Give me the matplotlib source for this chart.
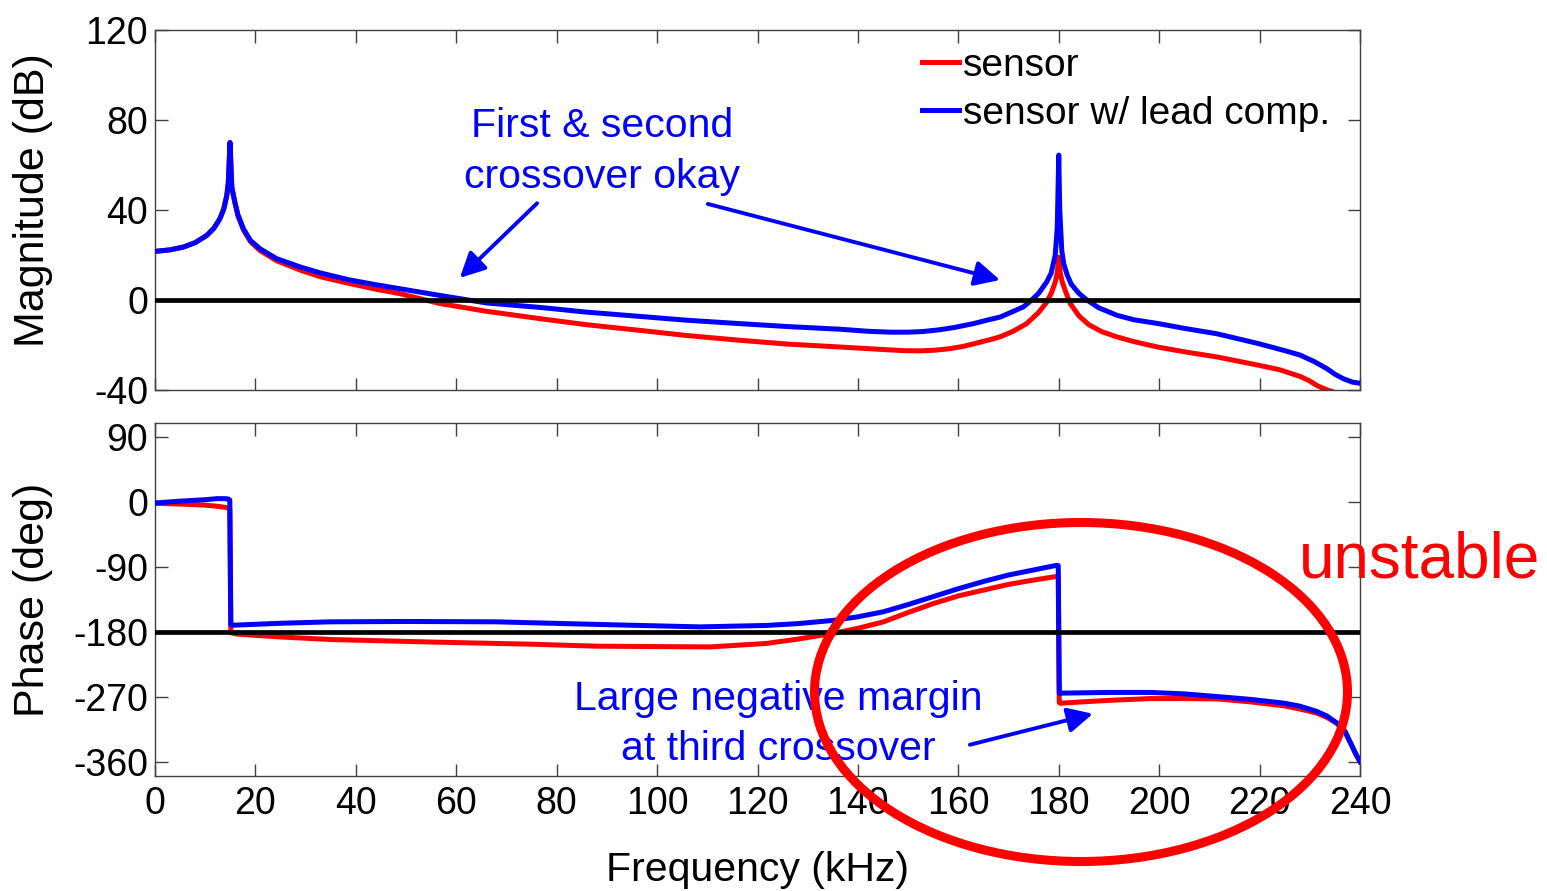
import matplotlib
matplotlib.use("Agg")
import matplotlib.pyplot as plt
from matplotlib.patches import Ellipse

plt.rcParams['font.family'] = ['Liberation Sans', 'DejaVu Sans']
plt.rcParams['axes.unicode_minus'] = False

# ---------------- data ----------------
mag_blue_f = [0, 3, 5.6, 8, 10.3, 11.7, 12.9, 13.7, 14.3, 14.6, 14.94, 15.3, 15.9, 16.5,
              17.6, 19, 20.9, 24.2, 28.9, 33, 38.8, 44, 48.8, 56.8, 66, 76.7, 86,
              96.6, 106, 116.5, 126, 136.5, 142, 146.4, 150, 153, 156, 159, 163,
              166, 168.3, 171, 173, 174.6, 176, 177.6, 178.5, 179.3, 179.7, 180.0,
              180.2, 180.6, 181.0, 181.7, 182.5, 184, 185.6, 188, 191.6, 195, 199.9,
              205, 211.5, 219.8, 225, 228.1, 231, 233.4, 235, 236.7, 238.5, 240]
mag_blue = [21.6, 22.3, 23.5, 25.5, 28.7, 31.8, 36, 40.5, 46.5, 52, 70, 50, 43.5, 38,
            31.7, 26.5, 22.8, 18.4, 14.7, 12, 8.9, 6.8, 5, 2, -1.3, -3.3, -5.4,
            -7.3, -9, -10.5, -11.8, -13, -13.9, -14.3, -14.3, -14, -13.3, -12.3, -10.5,
            -8.8, -7.6, -5, -3, 0, 3, 8, 12, 20, 32, 64.4,
            40, 22, 16, 11, 7, 3, 0, -3.5, -6.8, -8.8, -10.5,
            -12.6, -15, -19.4, -22.5, -24.5, -27.5, -30.5, -33, -35, -36.5, -37]

mag_red_f = [0, 3, 5.6, 8, 10.3, 11.7, 12.9, 13.7, 14.3, 14.6, 14.94, 15.3, 15.9, 16.5,
             17.6, 19, 20.9, 24.2, 28.9, 33, 38.8, 44, 48.8, 56.8, 66, 76.7, 86,
             96.6, 106, 116.5, 126, 136.5, 145, 149, 152.4, 155.5, 158.4, 161, 163,
             166, 168.3, 171, 173.6, 176, 177.6, 178.6, 179.3, 179.7, 180.0, 180.3,
             180.7, 181.4, 182.3, 184, 186, 188.5, 191.6, 195, 199.9, 205, 211.5,
             219.8, 224, 228.1, 230, 231.4, 233.5, 235.5, 240]
mag_red = [21.6, 22.3, 23.5, 25.5, 28.7, 31.8, 36, 40.5, 46.5, 52, 70, 50, 43.5, 37.5,
           31.2, 26, 22, 17.5, 13.3, 10.3, 7.3, 4.8, 2.8, -1.6, -5, -8.3, -11,
           -13.5, -15.8, -17.9, -19.6, -20.9, -22, -22.5, -22.6, -22.3, -21.6, -20.6, -19.5,
           -17.8, -16.4, -13.8, -10.5, -5.5, -1, 3.5, 8, 12, 19, 12,
           8, 3.5, -1.6, -7, -11, -14, -16.4, -18.5, -21, -23, -25.3,
           -29, -31, -34, -36, -38, -40, -41.5, -47]

ph_blue_f = [0, 5, 10, 12.3, 13.9, 14.6, 14.9, 15.1, 15.6, 25, 34.9, 50, 68, 81.3,
             94.6, 108.6, 121.8, 128, 135.1, 140, 145.1, 150, 155, 160, 165, 170,
             175, 179.6, 179.9, 180.1, 180.3, 190, 198.2, 205, 211.5, 218, 224.8,
             228, 231.4, 233.5, 235.4, 237, 238.1, 239.2, 240]
ph_blue = [-1, 1.5, 3.5, 5, 5, 4.5, 3, -170, -170.7, -168, -166, -165.5, -166, -168.4,
           -170.7, -173, -171, -168.5, -164, -159, -152, -142, -131, -120, -110, -101,
           -94, -87.5, -88, -265, -265, -264, -264, -266, -269.7, -273.5, -278.8,
           -283, -290.4, -297, -306.5, -318, -334, -350, -360]

ph_red_f = [0, 5, 10, 12.3, 13.9, 14.6, 14.9, 15.1, 16.3, 25, 34.9, 54.8, 74.7, 88,
            110.6, 121.8, 128, 135.1, 140, 145.1, 150, 155, 160, 165, 170, 175,
            179.6, 179.9, 180.1, 180.3, 185, 190, 198.2, 205, 211.5, 218, 224.8,
            228, 231.4, 233.5, 235.4, 237, 238.1, 239.2, 240]
ph_red = [-1.5, -2.5, -4, -5.5, -7, -8, -9, -181, -183, -187, -190.5, -194, -197, -199.8,
          -200.8, -196, -190, -182, -175, -166, -153, -140.7, -130, -122, -114, -108,
          -103, -103, -278, -279, -277, -275, -272.5, -272.5, -273, -277, -282.5,
          -287, -292.6, -299, -307, -318, -334, -350, -360]

freq_ticks = [0, 20, 40, 60, 80, 100, 120, 140, 160, 180, 200, 220, 240]
mag_ticks = [-40, 0, 40, 80, 120]
ph_ticks = [-360, -270, -180, -90, 0, 90]
mag_ref = 0
ph_ref = -180

# ---------------- figure ----------------
W, H = 1547, 891
fig = plt.figure(figsize=(W / 100, H / 100), dpi=100)

def fx(px):
    return px / W

def fy(py):
    return 1 - py / H

ax1 = fig.add_axes([fx(155), fy(390), (1360 - 155) / W, (390 - 30) / H])
ax2 = fig.add_axes([fx(155), fy(776), (1360 - 155) / W, (776 - 423) / H])

lw = 3.6
l_red, = ax1.plot(mag_red_f, mag_red, color='#ff0000', lw=lw, label='sensor', zorder=2)
l_blue, = ax1.plot(mag_blue_f, mag_blue, color='#0000ff', lw=lw,
                   label='sensor w/ lead comp.', zorder=3)
ax1.axhline(mag_ref, color='black', lw=3.4, zorder=4)

ax2.plot(ph_red_f, ph_red, color='#ff0000', lw=lw, zorder=2)
ax2.plot(ph_blue_f, ph_blue, color='#0000ff', lw=lw, zorder=3)
ax2.axhline(ph_ref, color='black', lw=3.4, zorder=4)

ax1.set_xlim(0, 240)
ax1.set_ylim(-40, 120)
ax2.set_xlim(0, 240)
ax2.set_ylim(-380, 110)

for ax in (ax1, ax2):
    ax.set_xticks(freq_ticks)
    ax.tick_params(direction='in', length=9, width=1, color='#404040',
                   top=True, right=True, labelsize=27, pad=5)
    for s in ax.spines.values():
        s.set_color('#404040')
        s.set_linewidth(1)
ax1.set_yticks(mag_ticks)
ax1.tick_params(axis='x', labelbottom=False)
ax2.set_yticks(ph_ticks)
ax2.tick_params(axis='x', pad=7)

fig.text(fx(33), fy(200), 'Magnitude (dB)', rotation=90, ha='center', va='center', fontsize=31)
fig.text(fx(33), fy(600), 'Phase (deg)', rotation=90, ha='center', va='center', fontsize=31)
fig.text(fx(757), fy(870), 'Frequency (kHz)', ha='center', va='center', fontsize=29.5)

ax1.legend(handles=[l_red, l_blue], loc='upper left',
           bbox_to_anchor=(fx(922), fy(48)), bbox_transform=fig.transFigure,
           frameon=False, fontsize=28, handlelength=0.95, handletextpad=0.1,
           labelspacing=0.3, borderpad=0, borderaxespad=0)

# annotations (top)
ax1.text(89, 66.0, 'First & second\ncrossover okay', color='#0000ff', fontsize=29.5,
         ha='center', va='center', linespacing=1.42, zorder=6)
arrow_kw = dict(arrowstyle='-|>', color='#0000ff', lw=2.8, mutation_scale=38,
                shrinkA=0, shrinkB=0)
ax1.annotate('', xy=(60.7, 9.8), xytext=(76.1, 43), arrowprops=arrow_kw, zorder=6)
ax1.annotate('', xy=(168.3, 8.9), xytext=(110.1, 42.7), arrowprops=arrow_kw, zorder=6)

# annotations (bottom)
ax2.text(124.1, -308, 'Large negative margin\nat third crossover', color='#0000ff',
         fontsize=29.5, ha='center', va='center', linespacing=1.42, zorder=6)
ax2.annotate('', xy=(186.8, -293.6), xytext=(162.3, -336.6), arrowprops=arrow_kw, zorder=6)

# red ellipse + "unstable"
ell = Ellipse((fx(1081), fy(692)), 533 / W, 339 / H, transform=fig.transFigure,
              fill=False, ec='#ff0000', lw=6.5, zorder=10)
fig.add_artist(ell)
fig.text(fx(1420), fy(560), 'unstable', color='#ff0000', fontsize=46,
         ha='center', va='center')

fig.savefig('out.png', dpi=100)
